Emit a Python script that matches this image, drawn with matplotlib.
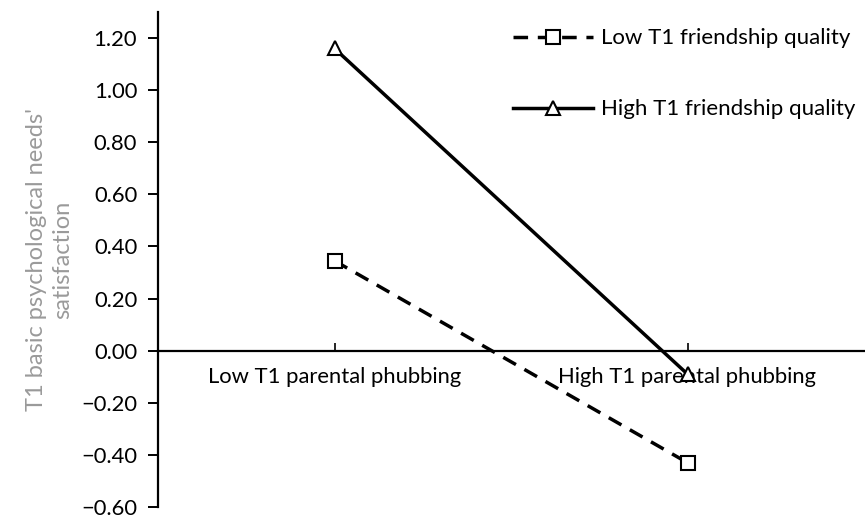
import matplotlib.pyplot as plt

categories = ["Low T1 parental phubbing", "High T1 parental phubbing"]
low_fq = [0.345, -0.43]
high_fq = [1.16, -0.09]
y_ticks = [-0.60, -0.40, -0.20, 0.00, 0.20, 0.40, 0.60, 0.80, 1.00, 1.20]

plt.rcParams["font.family"] = ["Lato", "DejaVu Sans"]

fig = plt.figure(figsize=(8.65, 5.18), dpi=100)
ax = fig.add_axes([158 / 865, 11 / 518, 706 / 865, 495 / 518])

x = [0.5, 1.5]
ax.plot(x, low_fq, color="black", lw=2.5, linestyle=(0, (4.2, 2.8)),
        marker="s", markersize=10, markerfacecolor="white",
        markeredgecolor="black", markeredgewidth=1.5,
        label="Low T1 friendship quality")
ax.plot(x, high_fq, color="black", lw=2.5,
        marker="^", markersize=10, markerfacecolor="white",
        markeredgecolor="black", markeredgewidth=1.5,
        label="High T1 friendship quality")

ax.set_xlim(0, 2)
ax.set_ylim(-0.6, 1.30)
ax.set_yticks(y_ticks)
ax.set_yticklabels([f"{v:.2f}".replace("-", "\u2212") for v in y_ticks])
ax.set_xticks(x)
ax.set_xticklabels(categories)

ax.spines["top"].set_visible(False)
ax.spines["right"].set_visible(False)
ax.spines["bottom"].set_position(("data", 0))
ax.spines["left"].set_linewidth(1.6)
ax.spines["bottom"].set_linewidth(1.6)
ax.tick_params(axis="y", direction="out", length=7, width=1.4, labelsize=15.8, pad=8)
ax.tick_params(axis="x", direction="in", length=6, width=1.2, labelsize=15.8, pad=12)

ax.set_ylabel("T1 basic psychological needs'\nsatisfaction", color="#9a9a9a",
              fontsize=17, labelpad=6, linespacing=1.3)

ax.legend(loc="upper right", bbox_to_anchor=(1.0, 0.985), frameon=False,
          fontsize=16, handlelength=3.6, labelspacing=2.3, handletextpad=0.35,
          borderaxespad=0.0)

fig.savefig("out.png", dpi=100)
